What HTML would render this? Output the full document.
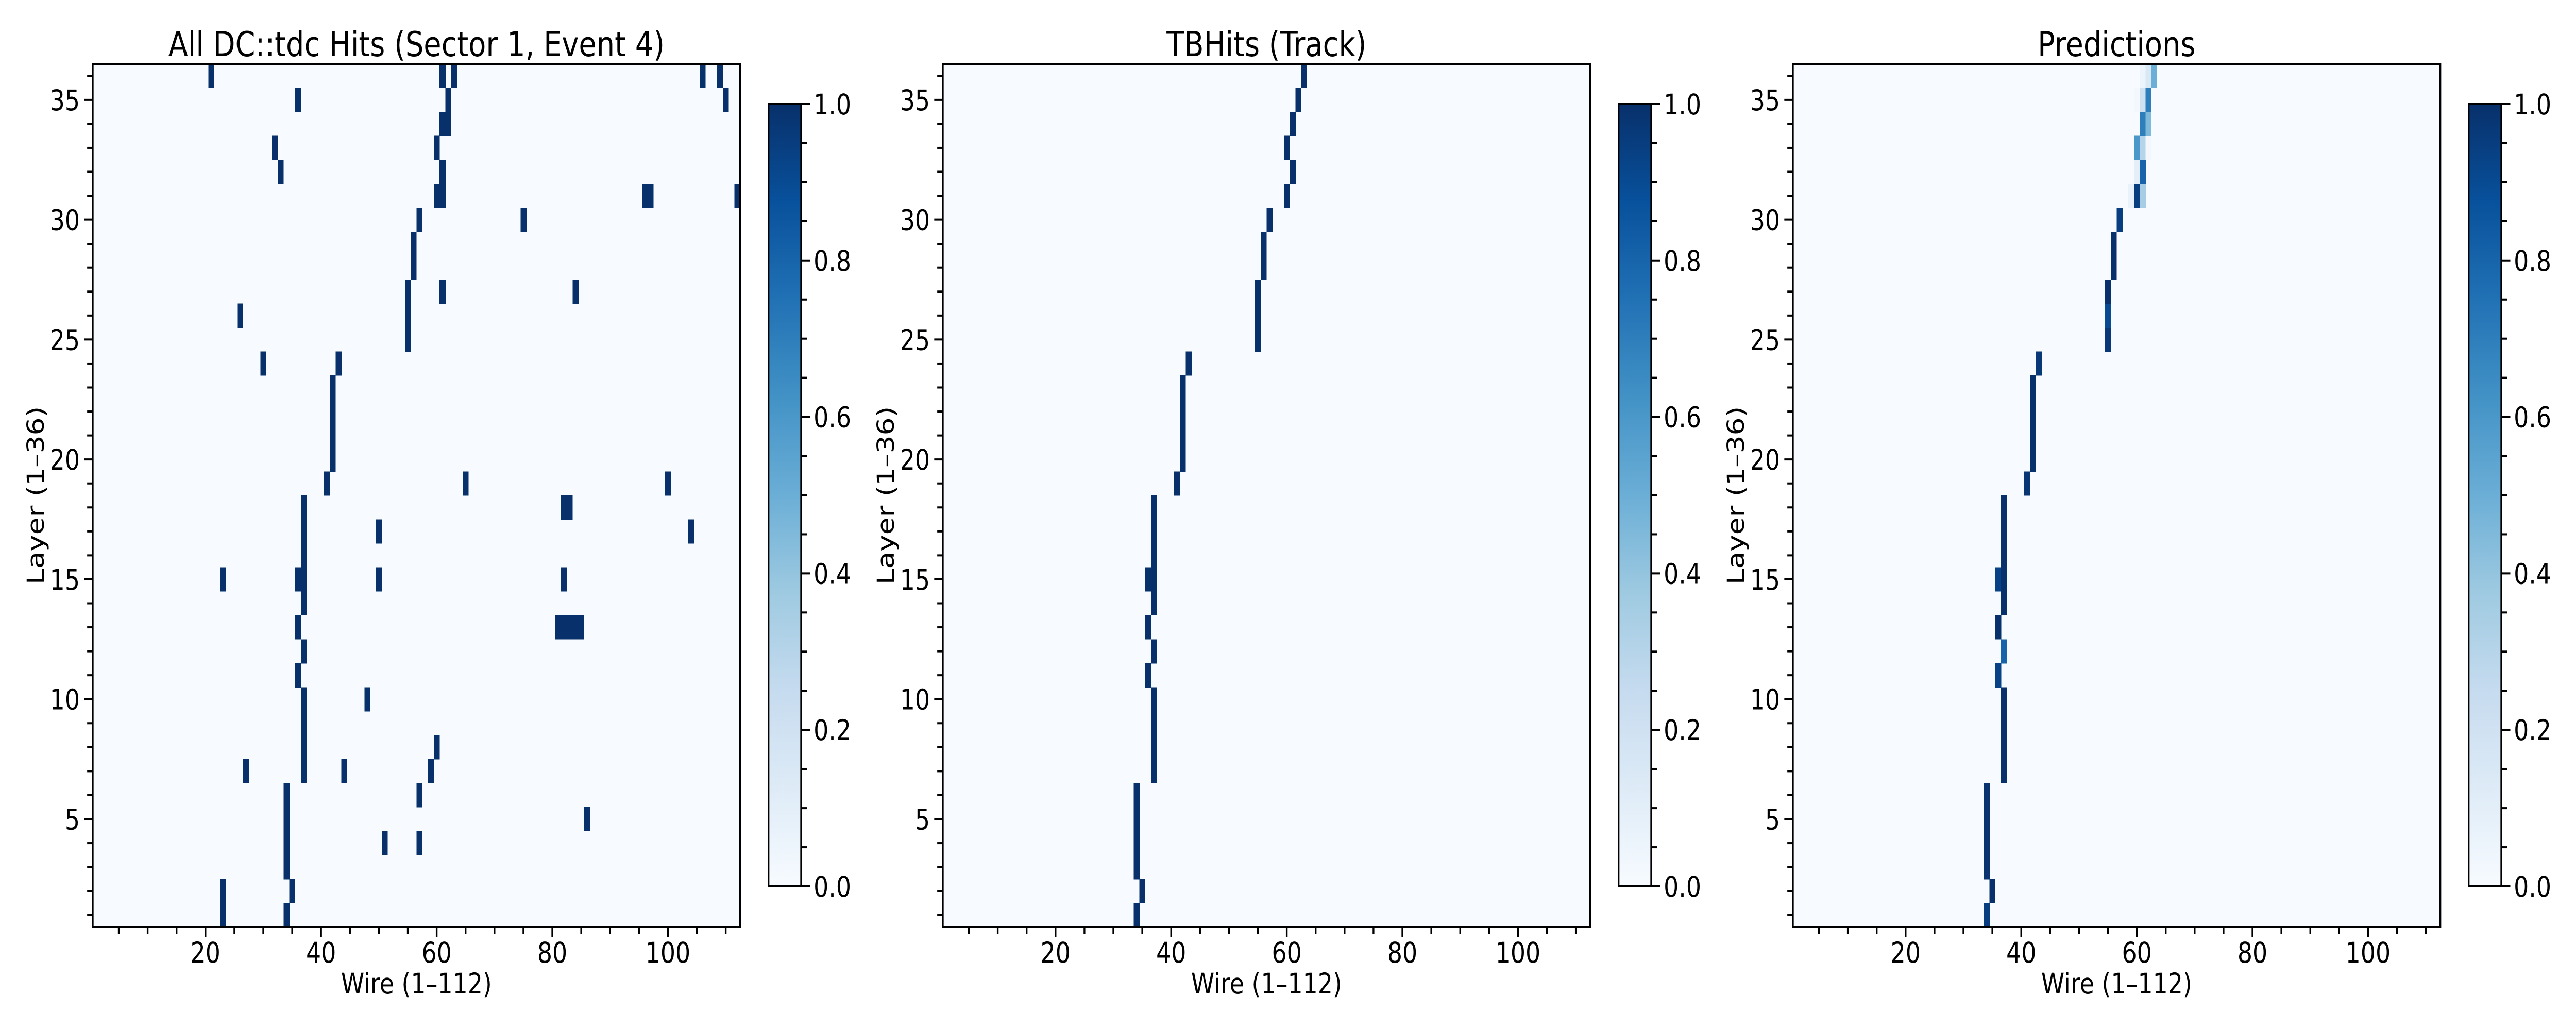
<!DOCTYPE html>
<html><head><meta charset="utf-8"><title>DC hits heatmaps</title>
<style>
html,body{margin:0;padding:0;background:#fff;width:100%;height:100%;overflow:hidden;}
svg{display:block;position:fixed;left:0;top:0;width:100vw;height:100vh;}
text{font-family:"DejaVu Sans","Liberation Sans",sans-serif;fill:#000;}
</style></head>
<body>
<svg id="fig" xmlns="http://www.w3.org/2000/svg" viewBox="0 0 6000 2000" preserveAspectRatio="none">
<defs>
<linearGradient id="bluesGrad" x1="0" y1="1" x2="0" y2="0">
<stop offset="0" stop-color="#f7fbff"/><stop offset="0.125" stop-color="#deebf7"/><stop offset="0.25" stop-color="#c6dbef"/><stop offset="0.375" stop-color="#9ecae1"/><stop offset="0.5" stop-color="#6baed6"/><stop offset="0.625" stop-color="#4292c6"/><stop offset="0.75" stop-color="#2171b5"/><stop offset="0.875" stop-color="#08519c"/><stop offset="1" stop-color="#08306b"/>
</linearGradient>
</defs>
</svg>
<script>
// ---- data ----
// Panel 1: all hit wires per layer (index 0 = layer 1)
const allHitsByLayer = [
 [23,34],[23,35],[34],[34,51,57],[34,86],[34,57],[27,37,44,59],[37,60],[37],[37,48],
 [36],[37],[36,81,82,83,84,85],[37],[23,36,37,50,82],[37],[37,50,104],[37,82,83],[41,65,100],[42],
 [42],[42],[42],[30,43],[55],[26,55],[55,61,84],[56],[56],[57,75],
 [60,61,96,97,112],[33,61],[32,60],[61,62],[36,62,110],[21,61,63,106,109]
];
// Panel 2: track hit wires per layer
const trackByLayer = [
 [34],[35],[34],[34],[34],[34],[37],[37],[37],[37],
 [36],[37],[36],[37],[36,37],[37],[37],[37],[41],[42],
 [42],[42],[42],[43],[55],[55],[55],[56],[56],[57],
 [60],[61],[60],[61],[62],[63]
];
// Panel 3: predictions — wires and values per layer
const predWires = [
 [34],[35],[34],[34],[34],[34],[37],[37],[37],[37],
 [36],[37],[36],[37],[36,37],[37],[37],[37],[41],[42],
 [42],[42],[42],[43],[55],[55],[55],[56],[56],[57],
 [59,60,61],[60,61],[60,61,62],[61,62],[60,61,62],[61,62,63]
];
const predValues = [
 [0.95],[1],[0.99],[0.99],[0.99],[0.99],[1],[1],[1],[1],
 [0.93],[0.8],[1],[1],[0.93,1],[1],[1],[1],[0.98],[1],
 [1],[1],[1],[0.97],[0.97],[0.9],[1],[1],[1],[0.95],
 [0.07,0.95,0.35],[0.1,0.8],[0.6,0.3,0.03],[0.7,0.45],[0.02,0.2,0.7],[0.05,0.15,0.5]
];
const panelTitles = ["All DC::tdc Hits (Sector 1, Event 4)","TBHits (Track)","Predictions"];
const xTickLabels = [20,40,60,80,100];
const yTickLabels = [5,10,15,20,25,30,35];
const cbTickLabels = [0.0,0.2,0.4,0.6,0.8,1.0];

// ---- layout ----
const NS="http://www.w3.org/2000/svg";
const svg=document.getElementById('fig');
const AX_TOP=124, AX_BOT=1800, AX_W=1508;
const PANEL_LEFT=[216,2196,4176];
const CB_OFF=1574, CB_W=76, CB_TOP=202, CB_BOT=1721;
const NW=112, NL=36;
const BLUES=["#f7fbff","#deebf7","#c6dbef","#9ecae1","#6baed6","#4292c6","#2171b5","#08519c","#08306b"];

function hex2rgb(h){return [parseInt(h.substr(1,2),16),parseInt(h.substr(3,2),16),parseInt(h.substr(5,2),16)];}
function blues(v){
  v=Math.max(0,Math.min(1,v));
  const t=v*8, i=Math.min(7,Math.floor(t)), f=t-i;
  const a=hex2rgb(BLUES[i]), b=hex2rgb(BLUES[i+1]);
  return "rgb("+a.map((c,k)=>Math.round(c+(b[k]-c)*f)).join(",")+")";
}
function mk(tag,attrs,parent){
  const e=document.createElementNS(NS,tag);
  for(const k in attrs)e.setAttribute(k,attrs[k]);
  (parent||svg).appendChild(e);return e;
}
function xScale(left,w){return left+(w-0.5)*AX_W/NW;}
function yScale(l){return AX_BOT-(l-0.5)*(AX_BOT-AX_TOP)/NL;}
function cbScale(v){return CB_BOT-v*(CB_BOT-CB_TOP);}

function drawPanel(p, wiresByLayer, valuesByLayer){
  const left=PANEL_LEFT[p];
  const g=mk('g',{});
  
  
  const bg=mk('rect',{x:left,y:AX_TOP,width:AX_W,height:AX_BOT-AX_TOP,fill:BLUES[0]},g);
  
  
  const cw=AX_W/NW, ch=(AX_BOT-AX_TOP)/NL;
  wiresByLayer.forEach((ws,li)=>{
    const layer=li+1;
    ws.forEach((w,k)=>{
      const v=valuesByLayer?valuesByLayer[li][k]:1;
      const r=mk('rect',{x:xScale(left,w)-cw/2,y:yScale(layer)-ch/2,width:cw+0.4,height:ch+0.4,fill:blues(v),'shape-rendering':'crispEdges'},g);
      
      
    });
  });
  const fr=mk('rect',{x:left,y:AX_TOP,width:AX_W,height:AX_BOT-AX_TOP,fill:'none',stroke:'#000','stroke-width':4},g);
  
  
  for(let w=5;w<=110;w+=5){
    const x=xScale(left,w), major=(w%20===0);
    const t=mk('line',{x1:x,x2:x,y1:AX_BOT,y2:AX_BOT+(major?20:13),stroke:'#000','stroke-width':4},g);
    
    
  }
  xTickLabels.forEach(v=>{
    const t=mk('text',{x:xScale(left,v),y:1869,'font-size':55,'text-anchor':'middle'},g);
    t.textContent=v;
    
    
  });
  for(let l=1;l<=36;l++){
    const y=yScale(l), major=(l%5===0);
    const t=mk('line',{x1:left,x2:left-(major?20:13),y1:y,y2:y,stroke:'#000','stroke-width':4},g);
    
    
  }
  yTickLabels.forEach(v=>{
    const t=mk('text',{x:left-30,y:yScale(v)+20,'font-size':55,'text-anchor':'end'},g);
    t.textContent=v;
    
    
  });
  const xl=mk('text',{x:left+AX_W/2,y:1929,'font-size':55,'text-anchor':'middle'},g);
  xl.textContent='Wire (1\u2013112)';
  
  
  const ylx=left-114;
  const yl=mk('text',{x:ylx,y:(AX_TOP+AX_BOT)/2,'font-size':55,'text-anchor':'middle',transform:'rotate(-90 '+ylx+' '+((AX_TOP+AX_BOT)/2)+')'},g);
  yl.textContent='Layer (1\u201336)';
  
  
  const tt=mk('text',{x:left+AX_W/2,y:109,'font-size':67,'text-anchor':'middle'},g);
  tt.textContent=panelTitles[p];
  
  
  const cx=left+CB_OFF;
  const cb=mk('rect',{x:cx,y:CB_TOP,width:CB_W,height:CB_BOT-CB_TOP,fill:'url(#bluesGrad)',stroke:'#000','stroke-width':4},g);
  
  
  for(let i=0;i<=20;i++){
    const v=i/20, y=cbScale(v), major=(i%4===0);
    const t=mk('line',{x1:cx+CB_W,x2:cx+CB_W+(major?21:14),y1:y,y2:y,stroke:'#000','stroke-width':4},g);
    
    
  }
  cbTickLabels.forEach(v=>{
    const t=mk('text',{x:cx+CB_W+29,y:cbScale(v)+20,'font-size':55,'text-anchor':'start'},g);
    t.textContent=v.toFixed(1);
    
    
  });
}
drawPanel(0, allHitsByLayer, null);
drawPanel(1, trackByLayer, null);
drawPanel(2, predWires, predValues);
</script>
</body></html>
